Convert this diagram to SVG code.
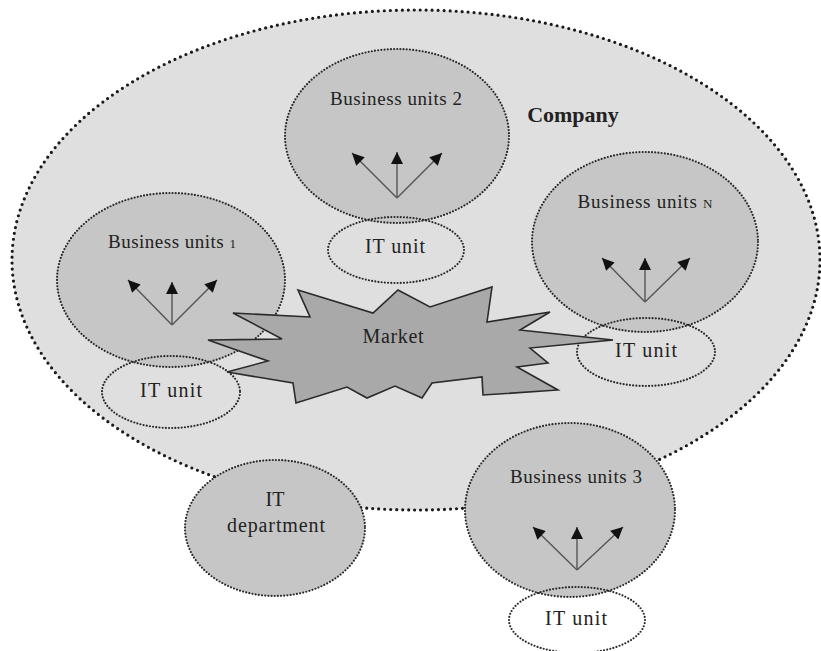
<svg xmlns="http://www.w3.org/2000/svg" width="821" height="651" viewBox="0 0 821 651">
<style>
.co{fill:#dfdfdf;stroke:#1a1a1a;stroke-width:3.2;stroke-dasharray:0 6;stroke-linecap:round}
.bu{fill:#c6c6c6;stroke:#2a2a2a;stroke-width:2.2;stroke-dasharray:0 3.2;stroke-linecap:round}
.it{fill:none;stroke:#2a2a2a;stroke-width:2.2;stroke-dasharray:0 3.2;stroke-linecap:round}
.lbl{font-family:"Liberation Serif","Times New Roman",serif;font-size:19px;fill:#222;text-anchor:middle}
.big{font-size:20px}
.sm{font-size:13px}
.bold{font-weight:bold;font-size:22px}
.arr{stroke:#555;stroke-width:1.4;fill:none;marker-end:url(#ah)}
.star{fill:#a9a9a9;stroke:#2a2a2a;stroke-width:1.6;stroke-linejoin:miter}
</style>
<defs>
<marker id="ah" viewBox="0 0 10 10" refX="10" refY="5" markerWidth="13" markerHeight="12" markerUnits="userSpaceOnUse" orient="auto">
<path d="M0,0 L10,5 L0,10 z" fill="#111"/>
</marker>
</defs>
<rect width="821" height="651" fill="#ffffff"/>

<g id="company">
<ellipse class="co" cx="416" cy="260" rx="404" ry="250"/>
<text class="lbl bold" x="573" y="122">Company</text>
</g>

<g id="bu2">
<ellipse class="bu" cx="397" cy="136" rx="112" ry="87"/>
<text class="lbl" x="396" y="105" textLength="132">Business units 2</text>
</g>
<g id="bu1">
<ellipse class="bu" cx="171" cy="280" rx="114" ry="87"/>
<text class="lbl" x="172" y="248" textLength="128">Business units <tspan class="sm">1</tspan></text>
</g>
<g id="buN">
<ellipse class="bu" cx="645" cy="242" rx="113" ry="90"/>
<text class="lbl" x="645" y="208" textLength="135">Business units <tspan class="sm">N</tspan></text>
</g>
<g id="bu3">
<ellipse class="bu" cx="570" cy="510" rx="105" ry="87"/>
<text class="lbl" x="576" y="483" textLength="132">Business units 3</text>
</g>
<g id="itdept">
<ellipse class="bu" cx="275" cy="528" rx="90" ry="68"/>
<text class="lbl big" x="275" y="506">IT</text>
<text class="lbl big" x="276" y="532" textLength="98">department</text>
</g>

<g id="connectors">
<line class="arr" x1="397" y1="198" x2="352" y2="153"/>
<line class="arr" x1="397" y1="198" x2="397" y2="152"/>
<line class="arr" x1="397" y1="198" x2="442" y2="153"/>
<line class="arr" x1="172" y1="325" x2="128" y2="280"/>
<line class="arr" x1="172" y1="325" x2="172" y2="282"/>
<line class="arr" x1="172" y1="325" x2="217" y2="280"/>
<line class="arr" x1="645" y1="302" x2="602" y2="258"/>
<line class="arr" x1="645" y1="302" x2="645" y2="258"/>
<line class="arr" x1="645" y1="302" x2="690" y2="258"/>
<line class="arr" x1="577" y1="570" x2="533" y2="527"/>
<line class="arr" x1="577" y1="570" x2="577" y2="527"/>
<line class="arr" x1="577" y1="570" x2="623" y2="527"/>
</g>

<g id="it2">
<ellipse class="it" cx="396" cy="250" rx="68" ry="33"/>
</g>
<g id="it1">
<ellipse class="it" cx="171" cy="392" rx="69" ry="36"/>
</g>
<g id="itN">
<ellipse class="it" cx="646" cy="352" rx="69" ry="34"/>
</g>
<g id="it3">
<ellipse class="it" cx="577" cy="620" rx="68" ry="33"/>
</g>

<g id="market">
<polygon class="star" points="208,340 282,339 233,313 310,317 298,290 373,313 398,290 430,307 492,287 487,322 550,312 520,330 613,340 530,348 548,363 517,367 558,390 483,395 482,377 432,383 422,398 395,386 367,398 347,387 296,403 293,383 227,372 268,361"/>
<text class="lbl big" x="393" y="343" textLength="61">Market</text>
</g>

<g id="it-labels">
<text class="lbl big" x="395" y="253" textLength="60">IT unit</text>
<text class="lbl big" x="171" y="397" textLength="62">IT unit</text>
<text class="lbl big" x="646" y="357" textLength="62">IT unit</text>
<text class="lbl big" x="576" y="625" textLength="62">IT unit</text>
</g>
</svg>
